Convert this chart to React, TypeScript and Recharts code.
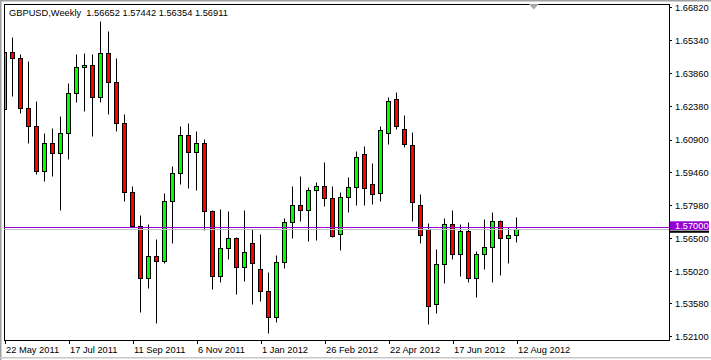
import React from 'react';
import { ComposedChart, Bar, XAxis, YAxis, ReferenceLine, ReferenceArea, ReferenceDot } from 'recharts';

// Weekly GBPUSD candles, week 0 = 22 May 2011 ... week 64 = 12 Aug 2012
const opens = [
  1.6227, 1.6482, 1.6455, 1.6232, 1.6154, 1.5953, 1.6075, 1.6031, 1.6120, 1.6299,
  1.6415, 1.6425, 1.6284, 1.6478, 1.6348, 1.6165, 1.5856, 1.5707, 1.5472, 1.5570,
  1.5548, 1.5816, 1.5941, 1.6111, 1.6035, 1.6075, 1.5774, 1.5484, 1.5606, 1.5651,
  1.5521, 1.5628, 1.5514, 1.5414, 1.5298, 1.5544, 1.5722, 1.5798, 1.5776, 1.5865,
  1.5883, 1.5830, 1.5669, 1.5834, 1.5879, 1.6026, 1.5892, 1.5852, 1.6123, 1.6272,
  1.6138, 1.6067, 1.5798, 1.5691, 1.5359, 1.5535, 1.5713, 1.5579, 1.5682, 1.5475,
  1.5579, 1.5611, 1.5727, 1.5651, 1.56652,
];
const highs = [
  1.6515, 1.6549, 1.6473, 1.6443, 1.6265, 1.6120, 1.6143, 1.6198, 1.6346, 1.6473,
  1.6478, 1.6475, 1.6623, 1.6577, 1.6458, 1.6206, 1.5886, 1.5755, 1.5715, 1.5648,
  1.5853, 1.5974, 1.6153, 1.6165, 1.6130, 1.6095, 1.5778, 1.5782, 1.5773, 1.5655,
  1.5777, 1.5692, 1.5670, 1.5499, 1.5576, 1.5740, 1.5886, 1.5931, 1.5882, 1.5901,
  1.5991, 1.5885, 1.5859, 1.5924, 1.6041, 1.6063, 1.5989, 1.6153, 1.6281, 1.6305,
  1.6202, 1.6125, 1.5849, 1.5718, 1.5602, 1.5740, 1.5777, 1.5715, 1.5724, 1.5594,
  1.5737, 1.5768, 1.5731, 1.5700, 1.57442,
];
const lows = [
  1.6056, 1.6287, 1.6212, 1.6078, 1.5937, 1.5908, 1.5931, 1.5777, 1.6004, 1.6261,
  1.6221, 1.6108, 1.6259, 1.6206, 1.6132, 1.5818, 1.5700, 1.5323, 1.5430, 1.5271,
  1.5542, 1.5631, 1.5892, 1.5877, 1.5867, 1.5688, 1.5423, 1.5457, 1.5558, 1.5402,
  1.5461, 1.5357, 1.5372, 1.5229, 1.5278, 1.5517, 1.5654, 1.5730, 1.5640, 1.5643,
  1.5797, 1.5658, 1.5599, 1.5770, 1.5800, 1.5800, 1.5804, 1.5818, 1.6072, 1.6138,
  1.6060, 1.5730, 1.5628, 1.5266, 1.5318, 1.5452, 1.5557, 1.5482, 1.5457, 1.5390,
  1.5515, 1.5457, 1.5487, 1.5542, 1.56354,
];
const closes = [
  1.6485, 1.6455, 1.6232, 1.6154, 1.5953, 1.6075, 1.6031, 1.6120, 1.6299, 1.6415,
  1.6425, 1.6284, 1.6478, 1.6348, 1.6165, 1.5856, 1.5707, 1.5472, 1.5570, 1.5548,
  1.5816, 1.5941, 1.6111, 1.6035, 1.6075, 1.5774, 1.5484, 1.5606, 1.5651, 1.5521,
  1.5588, 1.5539, 1.5414, 1.5298, 1.5544, 1.5722, 1.5798, 1.5776, 1.5865, 1.5883,
  1.5830, 1.5662, 1.5834, 1.5879, 1.6014, 1.5874, 1.5849, 1.6134, 1.6265, 1.6154,
  1.6071, 1.5814, 1.5664, 1.5350, 1.5535, 1.5713, 1.5579, 1.5682, 1.5475, 1.5579,
  1.5611, 1.5727, 1.5651, 1.5664, 1.56911,
];

const xTickIndex = [0, 8, 16, 24, 32, 40, 48, 56, 64];
const xTickLabels = ['22 May 2011', '17 Jul 2011', '11 Sep 2011', '6 Nov 2011', '1 Jan 2012', '26 Feb 2012', '22 Apr 2012', '17 Jun 2012', '12 Aug 2012'];
const yTicks = [1.521, 1.5358, 1.5502, 1.565, 1.5798, 1.5946, 1.609, 1.6238, 1.6386, 1.6534, 1.6682];
const yDomain: [number, number] = [1.51962, 1.66981];
const xDomain: [number, number] = [-0.125, 83];
const titleText = 'GBPUSD,Weekly  1.56652 1.57442 1.56354 1.56911';
const hLineLevel = 1.57;
const bidLevel = 1.56911;
const shiftMarkerIndex = 66.1;

const FONT = '"Liberation Sans", Arial, sans-serif';
const FS = 9.3;

const data = opens.map((o, i) => ({ i, open: o, high: highs[i], low: lows[i], close: closes[i] }));

const snap = (v: number) => Math.round(v) + 0.5;
const PLOT_LEFT = 4;

const Candle = (props: any) => {
  const { x, y, width, height, payload } = props;
  if (x == null || y == null) return null;
  const { open, close, high, low } = payload;
  const k = Math.floor(x + width / 2);
  const cx = k + 0.5;
  const span = high - low || 1;
  const yOf = (v: number) => y + ((high - v) / span) * height;
  const yO = yOf(open);
  const yC = yOf(close);
  const top = snap(Math.min(yO, yC));
  let bot = snap(Math.max(yO, yC));
  if (bot - top < 2) bot = top + 2;
  const up = close >= open;
  const left = Math.max(cx - 2, PLOT_LEFT + 0.5);
  const right = cx + 2;
  return (
    <g>
      <line x1={cx} x2={cx} y1={snap(y)} y2={snap(y + height)} stroke="#000" strokeWidth={1} />
      <rect x={left} y={top} width={right - left} height={bot - top} fill={up ? '#00ff00' : '#ff0000'} stroke="#000" strokeWidth={1} />
    </g>
  );
};

const XTick = (props: any) => {
  const { x, y, payload } = props;
  const idx = xTickIndex.indexOf(payload.value);
  return (
    <text x={x + 1} y={y} dy="0.71em" textAnchor="start" fill="#000" fontSize={FS} fontFamily={FONT}>
      {idx >= 0 ? xTickLabels[idx] : ''}
    </text>
  );
};

const PurpleLabel = (props: any) => {
  const vb = props.viewBox || {};
  const right = (vb.x || 0) + (vb.width || 0);
  const ly = vb.y || 0;
  return (
    <g>
      <rect x={right + 1} y={ly - 6} width={39} height={8.7} fill="#9400d3" />
      <text x={right + 6} y={ly + 1.8} fill="#ffffff" fontSize={FS} fontFamily={FONT}>
        {hLineLevel.toFixed(5)}
      </text>
    </g>
  );
};

const BidLabel = (props: any) => {
  const vb = props.viewBox || {};
  const right = (vb.x || 0) + (vb.width || 0);
  const ly = vb.y || 0;
  return <rect x={right + 1} y={ly + 1.3} width={39} height={2.2} fill="#000" />;
};

const ShiftMarker = (props: any) => {
  const { cx, cy } = props;
  return <polygon points={`${cx - 5},${cy} ${cx + 5},${cy} ${cx},${cy + 5.5}`} fill="#a8a8a8" />;
};

export default function App() {
  return (
    <div style={{ position: 'absolute', left: 0, top: 0, width: 711, height: 360, background: '#fff' }}>
      <style>{`.recharts-cartesian-axis-line, .recharts-cartesian-axis-tick-line, .recharts-reference-area-rect, .recharts-reference-line-line { shape-rendering: crispEdges; }`}</style>
      <ComposedChart width={711} height={360} data={data} margin={{ top: 4, right: 0, bottom: 0, left: 4 }}>
        <XAxis
          type="number"
          dataKey="i"
          domain={xDomain}
          ticks={xTickIndex}
          interval={0}
          allowDataOverflow
          height={20}
          tickSize={4}
          tickMargin={2}
          axisLine={{ stroke: '#000' }}
          tickLine={{ stroke: '#000' }}
          tick={<XTick />}
        />
        <YAxis
          orientation="right"
          type="number"
          domain={yDomain}
          ticks={yTicks}
          interval={0}
          allowDataOverflow
          width={42}
          tickSize={3}
          tickMargin={3}
          axisLine={{ stroke: '#000' }}
          tickLine={{ stroke: '#000' }}
          tickFormatter={(v: number) => v.toFixed(5)}
          tick={{ fill: '#000', fontSize: FS, fontFamily: FONT }}
        />
        <ReferenceArea x1={xDomain[0]} x2={xDomain[1]} y1={yDomain[0]} y2={yDomain[1]} fill="none" fillOpacity={0} stroke="#000" strokeOpacity={1} ifOverflow="visible" />
        <Bar dataKey={(d: any) => [d.low, d.high]} barSize={5} shape={<Candle />} isAnimationActive={false} />
        <ReferenceLine y={bidLevel} stroke="#c0c0c0" strokeWidth={1} ifOverflow="visible" label={<BidLabel />} />
        <ReferenceLine y={hLineLevel} stroke="#9400d3" strokeWidth={1} ifOverflow="visible" label={<PurpleLabel />} />
        <ReferenceDot x={shiftMarkerIndex} y={yDomain[1]} ifOverflow="visible" shape={<ShiftMarker />} />
      </ComposedChart>
      <svg width={711} height={360} style={{ position: 'absolute', left: 0, top: 0, pointerEvents: 'none' }}>
        <rect x={0} y={0} width={711} height={1.5} fill="#a0a0a0" />
        <rect x={0} y={0} width={1.5} height={360} fill="#a0a0a0" />
        <rect x={0} y={357} width={711} height={1.5} fill="#c8c8c8" />
        <text x={9} y={16} fill="#000" fontSize={FS} fontFamily={FONT} style={{ whiteSpace: 'pre' }}>
          {titleText}
        </text>
      </svg>
    </div>
  );
}
